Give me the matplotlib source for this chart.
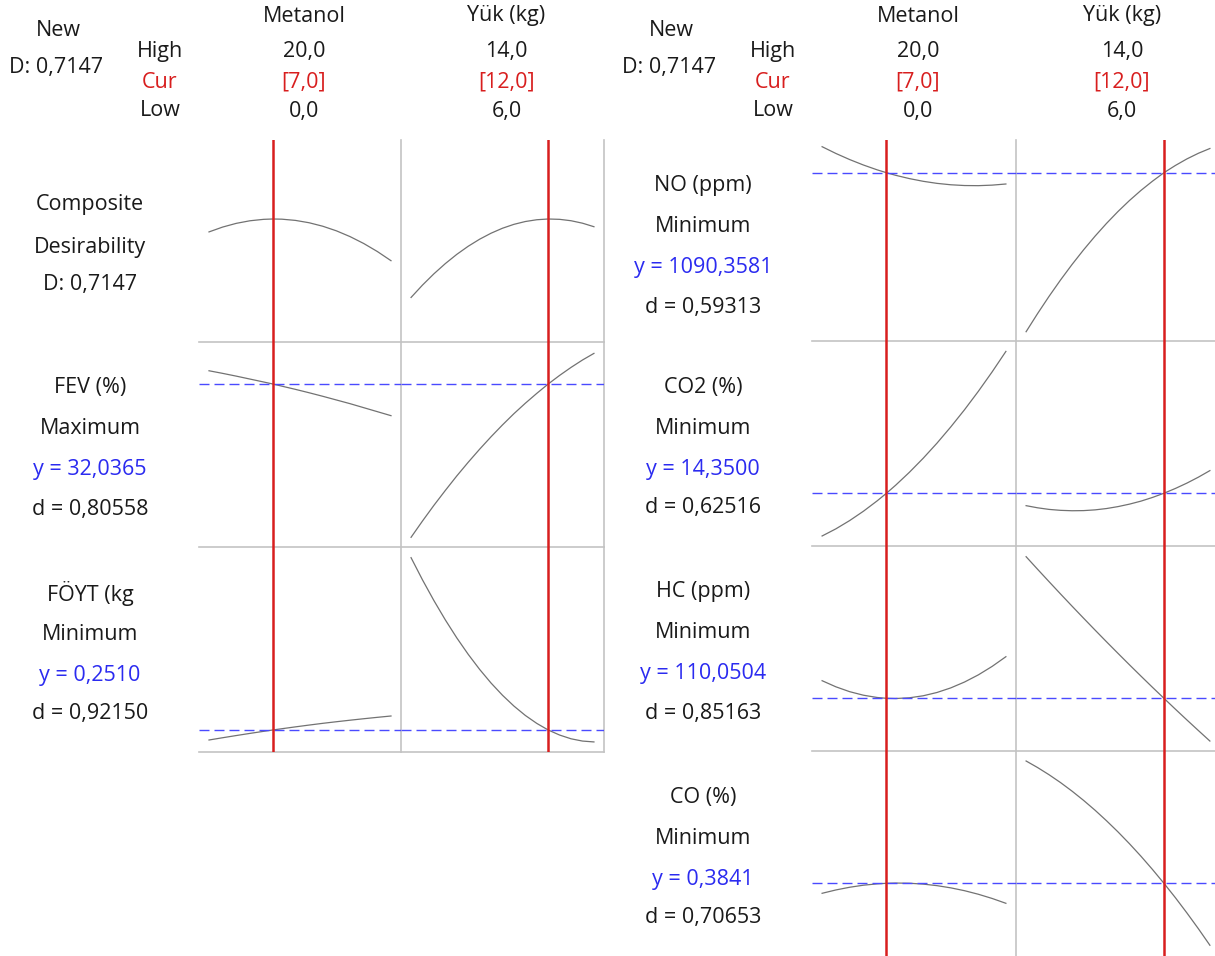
import matplotlib
matplotlib.use('Agg')

import matplotlib.pyplot as plt

plt.rcParams['font.family'] = ['Open Sans', 'DejaVu Sans']
plt.rcParams['lines.scale_dashes'] = False

W, H = 1215, 956

# factor settings
metanol_x = [0, 1.5, 3, 4.5, 6, 7, 8, 9.5, 11, 12.5, 14, 15.5, 17, 18.5, 20]
yuk_x = [6, 6.5, 7, 7.5, 8, 8.5, 9, 9.5, 10, 10.5, 11, 11.5, 12, 12.5, 13, 13.5, 14]
cur_metanol = 7.0
cur_yuk = 12.0
factor_names = ['Metanol', 'Yük (kg)']
high_labels = ['20,0', '14,0']
cur_labels = ['[7,0]', '[12,0]']
low_labels = ['0,0', '6,0']

# response curves
comp_metanol = [0.6695, 0.6865, 0.6995, 0.7085, 0.7135, 0.7147, 0.7141, 0.7098, 0.7016,
                0.6894, 0.6733, 0.6531, 0.6290, 0.6009, 0.5688]
comp_yuk = [0.4401, 0.4834, 0.5229, 0.5587, 0.5909, 0.6193, 0.6440, 0.6650, 0.6824,
            0.6960, 0.7059, 0.7121, 0.7147, 0.7135, 0.7086, 0.7000, 0.6877]

fev_metanol = [32.90, 32.73, 32.55, 32.36, 32.17, 32.04, 31.90, 31.69, 31.47,
               31.24, 31.00, 30.76, 30.50, 30.24, 29.98]
fev_yuk = [22.07, 23.13, 24.15, 25.12, 26.06, 26.95, 27.80, 28.61, 29.38,
           30.11, 30.79, 31.43, 32.04, 32.60, 33.12, 33.60, 34.03]

foyt_metanol = [0.2360, 0.2394, 0.2427, 0.2459, 0.2490, 0.2510, 0.2529, 0.2557, 0.2584,
                0.2610, 0.2634, 0.2657, 0.2679, 0.2700, 0.2720]
foyt_yuk = [0.5095, 0.4762, 0.4451, 0.4161, 0.3892, 0.3645, 0.3419, 0.3214, 0.3031,
            0.2869, 0.2728, 0.2609, 0.2510, 0.2434, 0.2378, 0.2344, 0.2331]

no_metanol = [1168.4, 1148.1, 1129.8, 1113.4, 1098.9, 1090.4, 1082.6, 1072.7, 1064.6,
              1058.4, 1054.2, 1051.9, 1051.5, 1053.1, 1056.5]
no_yuk = [613.4, 667.8, 719.6, 768.7, 815.1, 858.8, 899.9, 938.3, 974.0,
          1007.0, 1037.3, 1064.9, 1090.4, 1112.2, 1131.8, 1148.7, 1163.0]

co2_metanol = [13.710, 13.817, 13.941, 14.081, 14.237, 14.350, 14.470, 14.664, 14.874,
               15.100, 15.343, 15.601, 15.876, 16.167, 16.474]
co2_yuk = [14.164, 14.132, 14.108, 14.094, 14.088, 14.090, 14.101, 14.121, 14.150,
           14.187, 14.232, 14.287, 14.350, 14.422, 14.502, 14.591, 14.689]

hc_metanol = [118.85, 115.79, 113.36, 111.59, 110.45, 110.05, 109.94, 110.30, 111.31,
              112.96, 115.25, 118.19, 121.76, 125.99, 130.85]
hc_yuk = [180.85, 174.56, 168.35, 162.20, 156.12, 150.12, 144.18, 138.31, 132.52,
          126.79, 121.14, 115.55, 110.05, 104.59, 99.22, 93.92, 88.68]

co_metanol = [0.3641, 0.3708, 0.3762, 0.3803, 0.3830, 0.3841, 0.3846, 0.3842, 0.3825,
              0.3794, 0.3750, 0.3693, 0.3622, 0.3538, 0.3441]
co_yuk = [0.6287, 0.6156, 0.6012, 0.5855, 0.5684, 0.5500, 0.5303, 0.5092, 0.4869,
          0.4632, 0.4382, 0.4118, 0.3841, 0.3552, 0.3248, 0.2932, 0.2602]

# (labels, metanol curve, yuk curve, current y, y limits)
left_rows = [
    (['Composite', 'Desirability', 'D: 0,7147'], comp_metanol, comp_yuk, None, (0.2842, 0.9912)),
    (['FEV (%)', 'Maximum', 'y = 32,0365', 'd = 0,80558'], fev_metanol, fev_yuk, 32.0365, (21.44, 34.77)),
    (['FÖYT (kg', 'Minimum', 'y = 0,2510', 'd = 0,92150'], foyt_metanol, foyt_yuk, 0.2510, (0.2180, 0.5255)),
]
right_rows = [
    (['NO (ppm)', 'Minimum', 'y = 1090,3581', 'd = 0,59313'], no_metanol, no_yuk, 1090.3581, (585.5, 1188.5)),
    (['CO2 (%)', 'Minimum', 'y = 14,3500', 'd = 0,62516'], co2_metanol, co2_yuk, 14.35, (13.56, 16.63)),
    (['HC (ppm)', 'Minimum', 'y = 110,0504', 'd = 0,85163'], hc_metanol, hc_yuk, 110.0504, (83.7, 186.2)),
    (['CO (%)', 'Minimum', 'y = 0,3841', 'd = 0,70653'], co_metanol, co_yuk, 0.3841, (0.2307, 0.6487)),
]

RED = '#d81e1e'
BLUE = '#2b2bf0'
GRID = '#c4c4c4'
CURVE = '#727272'
FS = 15.5

fig = plt.figure(figsize=(W / 100, H / 100), dpi=100)


def ftext(x, y, s, color='#1a1a1a'):
    fig.text(x / W, 1 - y / H, s, ha='center', va='center', fontsize=FS, color=color)


def draw_panel(x0, cols, rows, row_edges):
    # header block
    ftext(x0 - 141, 30, 'New')
    ftext(x0 - 143, 67, 'D: 0,7147')
    ftext(x0 - 39, 51, 'High')
    ftext(x0 - 39, 82, 'Cur', RED)
    ftext(x0 - 39, 111, 'Low')
    for j, (l, r) in enumerate(cols):
        cx = (l + r) / 2 + 4
        ftext(cx, 16, factor_names[j])
        ftext(cx, 51, high_labels[j])
        ftext(cx, 82, cur_labels[j], RED)
        ftext(cx, 111, low_labels[j])

    for i, (labels, ym, yy, ycur, ylim) in enumerate(rows):
        top, bot = row_edges[i], row_edges[i + 1]
        offs = [65, 107, 145] if len(labels) == 3 else [46, 87, 128, 167]
        for k, s in enumerate(labels):
            ftext(x0 - 109, top + offs[k], s, BLUE if k == 2 and ycur is not None else '#1a1a1a')
        for j, (l, r) in enumerate(cols):
            ax = fig.add_axes([l / W, 1 - bot / H, (r - l) / W, (bot - top) / H])
            ax.patch.set_alpha(0)
            if j == 0:
                ax.plot(metanol_x, ym, color=CURVE, lw=0.9, zorder=2)
                ax.set_xlim(-1.1, 21.1)
                ax.axvline(cur_metanol, color=RED, lw=1.8, zorder=4)
            else:
                ax.plot(yuk_x, yy, color=CURVE, lw=0.9, zorder=2)
                ax.set_xlim(5.56, 14.44)
                ax.axvline(cur_yuk, color=RED, lw=1.8, zorder=4)
            if ycur is not None:
                ax.axhline(ycur, color='#4a4aff', lw=1.0, dashes=(7.2, 3.6), zorder=3)
            ax.set_ylim(*ylim)
            ax.set_xticks([])
            ax.set_yticks([])
            ax.spines['top'].set_visible(False)
            ax.spines['left'].set_visible(False)
            for sp in ('right', 'bottom'):
                ax.spines[sp].set_color(GRID)
                ax.spines[sp].set_linewidth(1.2)


draw_panel(199, [(199, 401), (401, 604)], left_rows, [140, 342, 547, 752])
draw_panel(812, [(812, 1016), (1016, 1220)], right_rows, [140, 341, 546, 751, 960])

fig.savefig('out.png', dpi=100)
